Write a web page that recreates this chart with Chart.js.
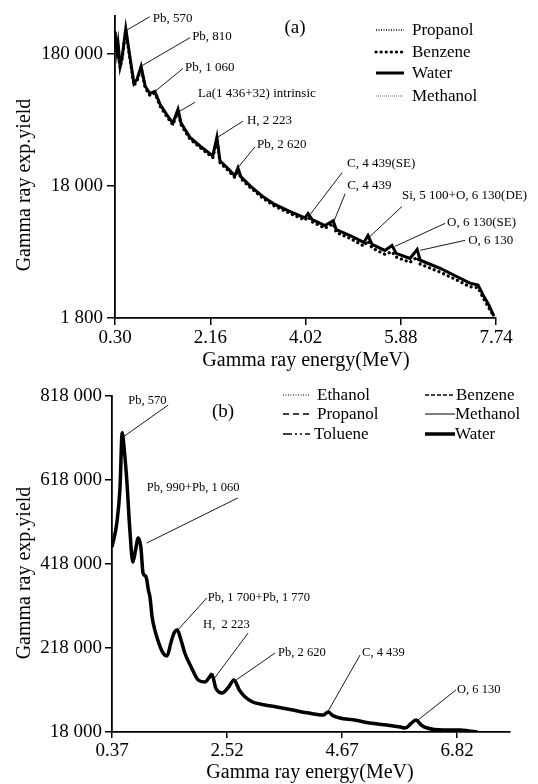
<!DOCTYPE html>
<html>
<head>
<meta charset="utf-8">
<script src="https://cdn.jsdelivr.net/npm/chart.js@4.4.1/dist/chart.umd.min.js"></script>
<style>
  html,body{margin:0;padding:0;background:#fff;}
  body{width:538px;height:784px;position:relative;overflow:hidden;}
  #wa{position:absolute;left:0;top:0;width:538px;height:375px;}
  #wb{position:absolute;left:0;top:375px;width:538px;height:409px;}
</style>
</head>
<body>
<div id="wa"><canvas id="ca" width="538" height="375"></canvas></div>
<div id="wb"><canvas id="cb" width="538" height="409"></canvas></div>
<script>
// ---------- Panel (a) data (log scale) ----------
const energyA = [0.30,0.34,0.36,0.40,0.44,0.51,0.59,0.67,0.73,0.81,0.89,0.98,1.08,1.18,1.33,1.43,1.53,1.59,1.76,1.96,2.21,2.29,2.35,2.51,2.64,2.70,2.76,2.94,3.17,3.39,3.72,4.01,4.07,4.15,4.40,4.56,4.62,4.89,5.16,5.24,5.32,5.57,5.71,5.79,6.06,6.20,6.26,6.65,7.00,7.23,7.39,7.49,7.60,7.70];
const waterA    = [263000,186000,214000,144000,170000,277000,171000,107000,115000,144000,102000,90000,93000,74500,60500,53600,68300,53600,42000,36000,30300,42000,27800,24200,21400,24600,21000,18000,15100,13200,11500,10300,11100,10000,9000,9800,8400,7570,6710,7570,6480,5840,6370,5550,5080,5940,4920,4280,3660,3300,3190,2680,2260,1860];
const propanolA = [266000,188000,212000,146000,172000,275000,173000,108000,116000,142000,103000,91000,92000,75000,61000,54000,67500,54000,42300,36200,30500,41000,28000,24400,21600,24300,21200,18100,15200,13300,11600,10400,11000,10100,9100,9700,8500,7650,6800,7400,6550,5900,6200,5600,5150,5800,5000,4350,3700,3350,3220,2700,2280,1870];
const benzeneA  = [258000,180000,208000,140000,165000,270000,166000,103000,112000,140000,99000,87000,90000,72000,58800,52000,66000,52000,40800,35000,29400,40000,27000,23500,20800,23800,20400,17500,14700,12800,11100,9900,10500,9600,8600,9300,8000,7200,6300,6900,6100,5450,5700,5200,4750,5200,4600,4000,3450,3100,3050,2550,2150,1850];
const methanolA = [260000,184000,216000,142000,168000,279000,169000,106000,114000,145000,101000,89500,93500,74000,60000,53200,68800,53200,41700,35800,30100,42500,27600,24000,21200,24800,20800,17900,15000,13100,11400,10200,11200,9900,8900,9900,8300,7500,6650,7650,6400,5750,6450,5480,5000,6000,4850,4200,3600,3250,3150,2640,2230,1850];
const xTicksA = [0.30,2.16,4.02,5.88,7.74];
const yTicksA = [1800,18000,180000];

// ---------- Panel (b) data (linear scale) ----------
const energyB = [0.37,0.46,0.52,0.56,0.60,0.65,0.70,0.76,0.81,0.86,0.91,0.95,1.00,1.02,1.05,1.08,1.12,1.17,1.25,1.33,1.40,1.47,1.53,1.59,1.66,1.73,1.85,1.98,2.11,2.18,2.24,2.31,2.43,2.55,2.65,2.75,2.86,3.00,3.14,3.45,3.75,4.05,4.32,4.41,4.50,4.63,4.90,5.19,5.50,5.76,5.85,5.95,6.05,6.15,6.26,6.56,6.88,7.04,7.20];
const waterB    = [458500,515600,600000,730000,689000,610900,506000,422800,451000,480000,458000,396600,389000,380000,356000,339000,291800,261000,228000,205000,199000,230000,253700,261000,237000,206000,172800,141800,137000,146600,153700,122800,110900,125000,141800,118000,101300,89400,84700,77500,70400,63000,58500,65600,57000,51300,46600,39400,34700,29900,27500,37000,46600,34700,27500,22800,22800,20400,18000];
const ethanolB  = [455000,512000,598000,726000,686000,608000,503000,420000,449000,478000,456000,395000,388000,378000,354000,337000,290000,259000,226500,204000,197500,228500,252000,259500,235500,205000,171500,141000,136000,149000,158000,124000,110000,124000,140500,117000,100500,88800,84200,77000,70000,62600,58200,64500,56600,51000,46300,39100,34400,29600,27300,36000,45500,34200,27300,22600,22600,20200,17900];
const propanolB = [460000,517000,603000,733000,691000,612000,508000,424000,452500,481500,459500,398000,390500,381500,357500,340500,293000,262000,229000,206000,200000,231000,255000,262500,238000,207000,173500,142500,137500,147500,155500,123500,111500,125500,142500,118500,101800,89800,85000,77800,70700,63300,58800,66200,57300,51600,46800,39600,34900,30100,27700,37500,47200,35000,27700,23000,23000,20600,18100];
const tolueneB  = [457000,514000,601000,728000,688000,609500,505000,421500,450000,479000,457000,395500,387500,379000,355000,338000,291000,260000,227500,204500,198500,229500,253000,260500,236500,205500,172200,141300,136500,148000,156500,123500,110500,124500,141300,117500,100800,89000,84400,77200,70200,62800,58300,65000,56800,51100,46400,39200,34500,29700,27400,36500,46000,34400,27400,22700,22700,20300,17950];
const benzeneB  = [459000,516500,599000,731000,690000,611500,507000,423500,451800,480800,458800,397300,389800,380700,356800,339700,292500,261500,228600,205600,199600,230600,254300,261800,237600,206600,173200,142200,137200,151000,160000,125000,111200,125300,142200,118300,101600,89600,84900,77700,70600,63200,58600,65900,57200,51500,46700,39500,34800,30000,27600,37200,46900,34900,27600,22900,22900,20500,18050];
const methanolB = [456500,513500,597000,729000,687500,609000,504500,421000,449500,479500,457500,396000,388500,379500,355500,338500,291500,260500,227800,204800,198800,229800,253400,260800,236800,205800,172500,141600,136800,147000,154500,123000,110700,124800,141600,117800,101000,89200,84500,77300,70300,62900,58400,65300,56900,51200,46500,39300,34600,29800,27450,36800,46300,34500,27450,22750,22750,20350,17980];
const xTicksB = [0.37,2.52,4.67,6.82];
const yTicksB = [18000,218000,418000,618000,818000];

// ---------- helpers ----------
const SERIF = '"Liberation Serif","Times New Roman",serif';
const fmtThousands = v => String(Math.round(v)).replace(/\B(?=(\d{3})+(?!\d))/g, ' ');
const pts = (xs, ys) => xs.map((e, i) => ({x: e, y: ys[i]}));

const annotPlugin = {
  id: 'annot',
  afterDatasetsDraw(chart, args, o) {
    const {ctx} = chart; const sx = chart.scales.x, sy = chart.scales.y;
    ctx.save();
    ctx.fillStyle = '#000'; ctx.strokeStyle = '#000'; ctx.lineWidth = 0.9;
    ctx.textBaseline = 'middle'; ctx.textAlign = 'left';
    ctx.font = o.font;
    o.items.forEach(it => {
      const px = sx.getPixelForValue(it.e), py = sy.getPixelForValue(it.v);
      ctx.beginPath(); ctx.moveTo(px, py); ctx.lineTo(px + it.lx, py + it.ly); ctx.stroke();
      ctx.fillText(it.text, px + it.tx, py + it.ty);
    });
    // panel tag
    ctx.font = o.tagFont; ctx.textAlign = 'center';
    ctx.fillText(o.tag.text, o.tag.x, o.tag.y);
    // axis titles
    ctx.font = o.titleFont;
    ctx.fillText(o.xTitle.text, o.xTitle.x, o.xTitle.y);
    ctx.save(); ctx.translate(o.yTitle.x, o.yTitle.y); ctx.rotate(-Math.PI / 2);
    ctx.fillText(o.yTitle.text, 0, 0); ctx.restore();
    // legend
    ctx.font = o.legendFont; ctx.textAlign = 'left';
    o.legend.forEach(l => {
      const ds = chart.data.datasets[l.ds];
      ctx.save();
      ctx.strokeStyle = ds.borderColor; ctx.lineWidth = ds.borderWidth;
      ctx.setLineDash(ds.borderDash || []); ctx.lineCap = ds.borderCapStyle || 'butt';
      ctx.beginPath(); ctx.moveTo(l.x0, l.y); ctx.lineTo(l.x1, l.y); ctx.stroke();
      ctx.restore();
      ctx.fillText(ds.label, l.tx, l.y + 1);
    });
    ctx.restore();
  }
};

function scaleCommon(tickLen, pad) {
  return {
    grid: {display: true, drawOnChartArea: false, drawTicks: true, tickLength: tickLen, color: '#000', lineWidth: 1.5},
    border: {display: true, color: '#000', width: 1.8},
    ticks: {color: '#000', font: {family: SERIF, size: 19}, padding: pad, autoSkip: false, maxRotation: 0}
  };
}

// ---------- Chart (a) ----------
const xa = scaleCommon(7, 2);
const ya = scaleCommon(8, 4);
new Chart(document.getElementById('ca'), {
  type: 'line',
  data: {datasets: [
    {label: 'Propanol', data: pts(energyA, propanolA), borderColor: '#000', borderWidth: 1.3, borderDash: [1, 1.5], pointRadius: 0, tension: 0, order: 2},
    {label: 'Benzene', data: pts(energyA, benzeneA), borderColor: '#000', borderWidth: 3.2, borderDash: [0.1, 5], borderCapStyle: 'round', pointRadius: 0, tension: 0, order: 3},
    {label: 'Water', data: pts(energyA, waterA), borderColor: '#000', borderWidth: 3, pointRadius: 0, tension: 0, order: 1},
    {label: 'Methanol', data: pts(energyA, methanolA), borderColor: '#444', borderWidth: 0.8, borderDash: [1, 1], pointRadius: 0, tension: 0, order: 4}
  ]},
  options: {
    responsive: false, animation: false, devicePixelRatio: 1,
    layout: {padding: {left: 0, right: 42, top: 13, bottom: 0}},
    plugins: {
      legend: {display: false}, tooltip: {enabled: false},
      annot: {
        font: '13px ' + SERIF, tagFont: '19px ' + SERIF, titleFont: '20px ' + SERIF, legendFont: '17px ' + SERIF,
        tag: {text: '(a)', x: 295, y: 28},
        xTitle: {text: 'Gamma ray energy(MeV)', x: 306, y: 361},
        yTitle: {text: 'Gamma ray exp.yield', x: 25, y: 185},
        legend: [
          {ds: 0, x0: 376, x1: 404, tx: 412, y: 30},
          {ds: 1, x0: 376, x1: 404, tx: 412, y: 52},
          {ds: 2, x0: 376, x1: 404, tx: 412, y: 73},
          {ds: 3, x0: 376, x1: 404, tx: 412, y: 96}
        ],
        items: [
          {text: 'Pb, 570', e: 0.51, v: 268000, lx: 24, ly: -14, tx: 27, ty: -12},
          {text: 'Pb, 810', e: 0.83, v: 146000, lx: 48, ly: -28, tx: 50, ty: -29},
          {text: 'Pb, 1 060', e: 1.08, v: 93000, lx: 28, ly: -23, tx: 30, ty: -24},
          {text: 'La(1 436+32) intrinsic', e: 1.53, v: 64800, lx: 17, ly: -10, tx: 20, ty: -19},
          {text: 'H, 2 223', e: 2.31, v: 42000, lx: 25, ly: -16, tx: 29, ty: -17},
          {text: 'Pb, 2 620', e: 2.70, v: 24600, lx: 17, ly: -21, tx: 19, ty: -23},
          {text: 'C, 4 439(SE)', e: 4.11, v: 10900, lx: 32, ly: -42, tx: 37, ty: -51},
          {text: 'C, 4 439', e: 4.58, v: 9800, lx: 11, ly: -27, tx: 13, ty: -35},
          {text: 'Si, 5 100+O, 6 130(DE)', e: 5.28, v: 7450, lx: 32, ly: -30, tx: 32, ty: -41},
          {text: 'O, 6 130(SE)', e: 5.77, v: 6270, lx: 50, ly: -23, tx: 52, ty: -24},
          {text: 'O, 6 130', e: 6.26, v: 5850, lx: 45, ly: -10, tx: 48, ty: -10}
        ]
      }
    },
    scales: {
      x: Object.assign(xa, {
        type: 'linear', min: 0.30, max: 7.74,
        afterBuildTicks: s => { s.ticks = xTicksA.map(v => ({value: v})); },
        afterFit: s => { s.height = 57; },
        ticks: Object.assign(xa.ticks, {callback: v => Number(v).toFixed(2)})
      }),
      y: Object.assign(ya, {
        type: 'logarithmic', min: 1800, max: 350000,
        afterBuildTicks: s => { s.ticks = yTicksA.map(v => ({value: v})); },
        afterFit: s => { s.width = 115; },
        ticks: Object.assign(ya.ticks, {callback: v => fmtThousands(v)})
      })
    }
  },
  plugins: [annotPlugin]
});

// ---------- Chart (b) ----------
const xb = scaleCommon(6, 2);
const yb = scaleCommon(7, 3);
new Chart(document.getElementById('cb'), {
  type: 'line',
  data: {datasets: [
    {label: 'Ethanol', data: pts(energyB, ethanolB), borderColor: '#000', borderWidth: 1, borderDash: [1, 1.5], pointRadius: 0, cubicInterpolationMode: 'monotone', order: 2},
    {label: 'Propanol', data: pts(energyB, propanolB), borderColor: '#000', borderWidth: 1.6, borderDash: [6, 4], pointRadius: 0, cubicInterpolationMode: 'monotone', order: 3},
    {label: 'Toluene', data: pts(energyB, tolueneB), borderColor: '#000', borderWidth: 1.6, borderDash: [9, 3, 2, 3, 2, 3], pointRadius: 0, cubicInterpolationMode: 'monotone', order: 4},
    {label: 'Benzene', data: pts(energyB, benzeneB), borderColor: '#000', borderWidth: 1.3, borderDash: [4, 2], pointRadius: 0, cubicInterpolationMode: 'monotone', order: 5},
    {label: 'Methanol', data: pts(energyB, methanolB), borderColor: '#000', borderWidth: 1, pointRadius: 0, cubicInterpolationMode: 'monotone', order: 6},
    {label: 'Water', data: pts(energyB, waterB), borderColor: '#000', borderWidth: 3.5, pointRadius: 0, cubicInterpolationMode: 'monotone', order: 1}
  ]},
  options: {
    responsive: false, animation: false, devicePixelRatio: 1,
    layout: {padding: {left: 0, right: 28, top: 21, bottom: 0}},
    plugins: {
      legend: {display: false}, tooltip: {enabled: false},
      annot: {
        font: '12.5px ' + SERIF, tagFont: '19px ' + SERIF, titleFont: '20px ' + SERIF, legendFont: '17px ' + SERIF,
        tag: {text: '(b)', x: 223, y: 37},
        xTitle: {text: 'Gamma ray energy(MeV)', x: 310, y: 398},
        yTitle: {text: 'Gamma ray exp.yield', x: 25, y: 198},
        legend: [
          {ds: 0, x0: 283, x1: 310, tx: 317, y: 20},
          {ds: 1, x0: 283, x1: 310, tx: 317, y: 39},
          {ds: 2, x0: 283, x1: 310, tx: 314, y: 59},
          {ds: 3, x0: 425, x1: 455, tx: 456, y: 20},
          {ds: 4, x0: 425, x1: 455, tx: 455, y: 39},
          {ds: 5, x0: 425, x1: 455, tx: 455, y: 59}
        ],
        items: [
          {text: 'Pb, 570', e: 0.58, v: 720400, lx: 45, ly: -32, tx: 5, ty: -36},
          {text: 'Pb, 990+Pb, 1 060', e: 1.02, v: 468000, lx: 91, ly: -45, tx: 0, ty: -55},
          {text: 'Pb, 1 700+Pb, 1 770', e: 1.60, v: 260900, lx: 29, ly: -32, tx: 30, ty: -32},
          {text: 'H,  2 223', e: 2.26, v: 141800, lx: 35, ly: -47, tx: -10, ty: -55},
          {text: 'Pb, 2 620', e: 2.69, v: 141800, lx: 39, ly: -27, tx: 42, ty: -27},
          {text: 'C, 4 439', e: 4.39, v: 63200, lx: 33, ly: -58, tx: 35, ty: -60},
          {text: 'O, 6 130', e: 6.09, v: 46600, lx: 38, ly: -30, tx: 39, ty: -30}
        ]
      }
    },
    scales: {
      x: Object.assign(xb, {
        type: 'linear', min: 0.37, max: 7.81,
        afterBuildTicks: s => { s.ticks = xTicksB.map(v => ({value: v})); },
        afterFit: s => { s.height = 52; },
        ticks: Object.assign(xb.ticks, {callback: v => Number(v).toFixed(2)})
      }),
      y: Object.assign(yb, {
        type: 'linear', min: 18000, max: 818000,
        afterBuildTicks: s => { s.ticks = yTicksB.map(v => ({value: v})); },
        afterFit: s => { s.width = 112; },
        ticks: Object.assign(yb.ticks, {callback: v => fmtThousands(v)})
      })
    }
  },
  plugins: [annotPlugin]
});
</script>
</body>
</html>
